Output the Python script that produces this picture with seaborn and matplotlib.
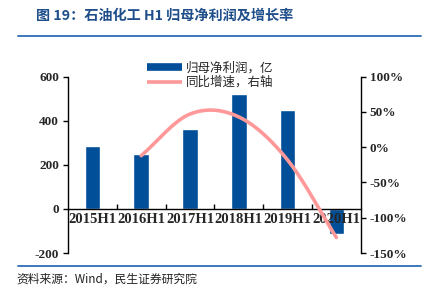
import numpy as np
import pandas as pd
import matplotlib
matplotlib.use("Agg")
import matplotlib.pyplot as plt
from matplotlib.lines import Line2D
import seaborn as sns

# ---- data ----
categories = ["2015H1", "2016H1", "2017H1", "2018H1", "2019H1", "2020H1"]
profit = [285, 249, 364, 521, 448, -113]          # 归母净利润，亿
growth_cats = ["2016H1", "2017H1", "2018H1", "2019H1", "2020H1"]
growth = [-12, 47, 43, -18, -128]                 # 同比增速, %
left_ticks = [-200, 0, 200, 400, 600]
right_ticks = [-150, -100, -50, 0, 50, 100]

title = "图 19：石油化工 H1 归母净利润及增长率"
source = "资料来源：Wind，民生证券研究院"
legend_labels = ["归母净利润，亿", "同比增速，右轴"]

BAR_C = "#004f98"
LINE_C = "#ff9999"
BLUE_RULE = "#2e6db4"
TITLE_C = "#1f4e8a"

sns.set_style("white")
plt.rcParams["font.family"] = ["Noto Sans CJK SC", "DejaVu Sans"]
SERIF = ["Liberation Serif", "DejaVu Serif"]

fig = plt.figure(figsize=(4.23, 2.91), dpi=100)
W, H = 423, 291
ax = fig.add_axes([68 / W, 1 - 253 / H, (360.7 - 68) / W, (253 - 76.7) / H])

df = pd.DataFrame({"cat": categories, "profit": profit})
sns.barplot(data=df, x="cat", y="profit", color=BAR_C, saturation=1,
            width=0.32, ax=ax)
for p in ax.patches:
    p.set_zorder(1)
ax.set_xlim(-0.5, len(categories) - 0.5)
ax.set_ylim(-200, 600)
ax.set_yticks(left_ticks)
ax.set_yticklabels([str(v) for v in left_ticks], fontfamily=SERIF,
                   fontweight="bold", fontsize=9.5)
ax.set_xlabel("")
ax.set_ylabel("")
for s in ["top", "right"]:
    ax.spines[s].set_visible(False)
ax.spines["bottom"].set_position(("data", 0))
ax.spines["bottom"].set_zorder(3)
for s in ["left", "bottom"]:
    ax.spines[s].set_color("black")
    ax.spines[s].set_linewidth(1)
ax.tick_params(axis="y", direction="out", length=3.5, width=1, color="black",
               pad=3, left=True)
ax.set_xticks(range(len(categories)))
ax.set_xticklabels(categories, fontfamily=SERIF, fontweight="bold", fontsize=10.5)
ax.tick_params(axis="x", which="major", length=0, pad=3)
ax.set_xticks(np.arange(0.5, len(categories) - 0.5, 1), minor=True)
ax.tick_params(axis="x", which="minor", direction="in", length=3.5, width=1,
               color="black", bottom=True)
ax.xaxis.set_zorder(5)

# ---- smoothed growth line (Catmull-Rom through the data points) ----
ax2 = ax.twinx()
gx = np.array([categories.index(c) for c in growth_cats], dtype=float)
gy = np.array(growth, dtype=float)
px = np.concatenate([[2 * gx[0] - gx[1]], gx, [2 * gx[-1] - gx[-2]]])
py = np.concatenate([[2 * gy[0] - gy[1]], gy, [2 * gy[-1] - gy[-2]]])
sx, sy = [], []
t = np.linspace(0, 1, 40)
for i in range(1, len(px) - 2):
    for P, out in ((px, sx), (py, sy)):
        p0, p1, p2, p3 = P[i - 1], P[i], P[i + 1], P[i + 2]
        m1 = (p2 - p0) / 2
        m2 = (p3 - p1) / 2
        h00 = 2 * t**3 - 3 * t**2 + 1
        h10 = t**3 - 2 * t**2 + t
        h01 = -2 * t**3 + 3 * t**2
        h11 = t**3 - t**2
        out.extend(h00 * p1 + h10 * m1 + h01 * p2 + h11 * m2)
curve = pd.DataFrame({"x": sx, "y": sy})
sns.lineplot(data=curve, x="x", y="y", ax=ax2, color=LINE_C, linewidth=2.6,
             sort=False, estimator=None, zorder=4)
ax2.set_xlim(-0.5, len(categories) - 0.5)
ax2.set_ylim(-150, 100)
ax2.set_yticks(right_ticks)
ax2.set_yticklabels([f"{v}%" for v in right_ticks], fontfamily=SERIF,
                    fontweight="bold", fontsize=9.5)
ax2.set_xlabel("")
ax2.set_ylabel("")
for s in ["top", "left", "bottom"]:
    ax2.spines[s].set_visible(False)
ax2.spines["right"].set_color("black")
ax2.spines["right"].set_linewidth(1)
ax2.tick_params(axis="y", direction="out", length=3.5, width=1, color="black",
                pad=3, right=True)

# ---- legend ----
handles = [Line2D([0], [0], color=BAR_C, lw=5.5, solid_capstyle="butt"),
           Line2D([0], [0], color=LINE_C, lw=2.6, solid_capstyle="butt")]
fig.legend(handles, legend_labels, loc="upper left",
           bbox_to_anchor=(138 / W, 1 - 53 / H), frameon=False,
           fontsize=9, handlelength=2.8, handletextpad=0.35,
           labelspacing=0.1, borderpad=0.2)

# ---- title / rules / source ----
fig.text(36 / W, 1 - 16 / H, title, fontsize=10.2, fontweight="bold",
         color=TITLE_C, va="center", ha="left")
fig.add_artist(Line2D([18 / W, 421 / W], [1 - 36 / H, 1 - 36 / H],
                      color=BLUE_RULE, lw=1.3, transform=fig.transFigure))
fig.add_artist(Line2D([18 / W, 421 / W], [1 - 266 / H, 1 - 266 / H],
                      color=BLUE_RULE, lw=1.3, transform=fig.transFigure))
fig.text(16 / W, 1 - 279 / H, source, fontsize=8.5, color="#222222",
         va="center", ha="left")

fig.savefig("out.png", dpi=100)
